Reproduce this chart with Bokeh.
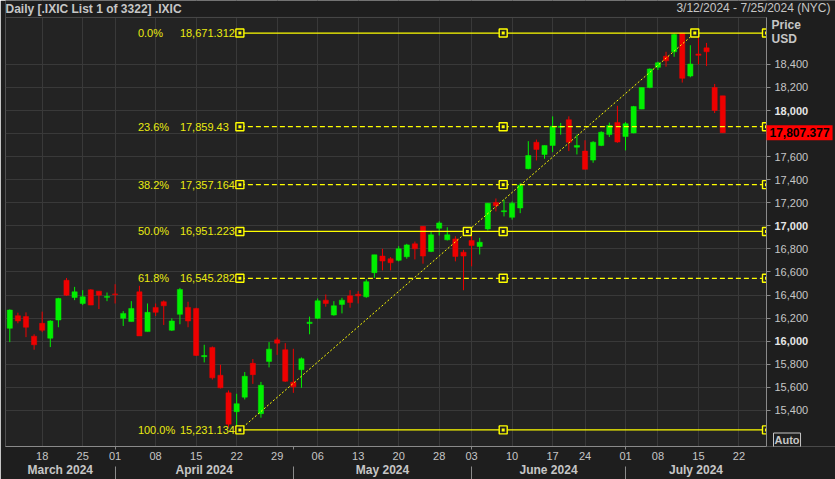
from bokeh.plotting import figure
from bokeh.models import (Range1d, LinearAxis, FixedTicker, Grid, Label,
                          ColumnDataSource, NumeralTickFormatter)
from bokeh.core.properties import value
from bokeh.embed import file_html
from bokeh.resources import INLINE

# ---------------- data ----------------
dates = ["03-12", "03-13", "03-14", "03-15", "03-18", "03-19", "03-20", "03-21", "03-22",
         "03-25", "03-26", "03-27", "03-28",
         "04-01", "04-02", "04-03", "04-04", "04-05", "04-08", "04-09", "04-10", "04-11", "04-12",
         "04-15", "04-16", "04-17", "04-18", "04-19", "04-22", "04-23", "04-24", "04-25", "04-26",
         "04-29", "04-30",
         "05-01", "05-02", "05-03", "05-06", "05-07", "05-08", "05-09", "05-10", "05-13", "05-14",
         "05-15", "05-16", "05-17", "05-20", "05-21", "05-22", "05-23", "05-24", "05-28", "05-29",
         "05-30", "05-31",
         "06-03", "06-04", "06-05", "06-06", "06-07", "06-10", "06-11", "06-12", "06-13", "06-14",
         "06-17", "06-18", "06-20", "06-21", "06-24", "06-25", "06-26", "06-27", "06-28",
         "07-01", "07-02", "07-03", "07-05", "07-08", "07-09", "07-10", "07-11", "07-12",
         "07-15", "07-16", "07-17", "07-18"]

opens = [16112, 16221, 16213, 16043, 16155, 16026, 16184, 16528, 16379,
         16327, 16445, 16434, 16380,
         16410, 16198, 16170, 16428, 16083, 16293, 16342, 16095, 16233, 16293,
         16284, 15866, 15946, 15705, 15552, 15389, 15515, 15808, 15372, 15825,
         16012, 15926,
         15644, 15753, 16153, 16198, 16356, 16227, 16319, 16393, 16407, 16385,
         16594, 16738, 16715, 16701, 16732, 16844, 16996, 16778, 16979, 16879,
         16887, 16772,
         16873, 16821, 16973, 17203, 17123, 17074, 17155, 17496, 17725, 17619,
         17697, 17854, 17920, 17682, 17648, 17570, 17697, 17791, 17897,
         17774, 17806, 18012, 18199, 18374, 18471, 18509, 18671.312, 18299,
         18490, 18543, 18199, 18127]
highs = [16276, 16247, 16250, 16060, 16256, 16181, 16376, 16548, 16471,
         16442, 16451, 16434, 16422,
         16494, 16261, 16347, 16480, 16327, 16327, 16353, 16198, 16462, 16342,
         16290, 15969, 15954, 15796, 15573, 15544, 15733, 15845, 15647, 15992,
         16032, 15983,
         15934, 15859, 16213, 16370, 16405, 16347, 16376, 16442, 16434, 16537,
         16749, 16801, 16729, 16824, 16844, 16864, 16996, 16950, 17039, 16988,
         16910, 16792,
         16912, 16896, 17197, 17237, 17226, 17211, 17370, 17734, 17748, 17697,
         17949, 17892, 17949, 17791, 17742, 17734, 17820, 17895, 18041,
         17900, 18040, 18199, 18365, 18423, 18509, 18667, 18671.312, 18566,
         18667, 18586, 18230, 18127]
lows = [15992, 16155, 16035, 15926, 16078, 15949, 16121, 16393, 16356,
        16313, 16313, 16279, 16347,
        16327, 16132, 16170, 16046, 16083, 16218, 16141, 16089, 16147, 16121,
        15872, 15816, 15667, 15590, 15257, 15231.134, 15495, 15630, 15337, 15773,
        15882, 15647,
        15552, 15596, 16060, 16192, 16299, 16221, 16241, 16290, 16327, 16376,
        16548, 16614, 16614, 16692, 16715, 16709, 16672, 16772, 16916, 16873,
        16692, 16442,
        16649, 16752, 16959, 17125, 17082, 17054, 17110, 17490, 17567, 17582,
        17639, 17791, 17648, 17619, 17490, 17547, 17691, 17770, 17720,
        17654, 17802, 18012, 18193, 18351, 18380, 18466, 18242, 18288,
        18400, 18385, 17978, 17806]
closes = [16270, 16175, 16121, 15969, 16095, 16175, 16370, 16399, 16428,
          16385, 16313, 16399, 16388,
          16404, 16241, 16284, 16046, 16250, 16250, 16307, 16175, 16448, 16175,
          15877, 15876, 15682, 15596, 15280, 15458, 15696, 15710, 15618, 15931,
          15983, 15653,
          15604, 15848, 16165, 16350, 16327, 16307, 16356, 16336, 16393, 16516,
          16749, 16695, 16680, 16801, 16835, 16801, 16738, 16922, 17025, 16922,
          16735, 16738,
          16830, 16858, 17197, 17174, 17131, 17197, 17352, 17610, 17662, 17697,
          17863, 17863, 17725, 17697, 17490, 17725, 17811, 17869, 17727,
          17886, 18035, 18199, 18360, 18414, 18431, 18658, 18279, 18403,
          18478, 18509, 18001, 17807.377]

last_price = 17807.377
last_price_label = "17,807.377"

# x axis: trading-day index of weekly labels (Jul 22 lies after the data)
week_idx = [4, 9, 13, 18, 23, 28, 33, 38, 43, 48, 53, 57, 62, 67, 71, 76, 80, 85, 90]
week_labels = ["18", "25", "01", "08", "15", "22", "29", "06", "13", "20", "28",
               "03", "10", "17", "24", "01", "08", "15", "22"]
month_start_idx = [13, 35, 57, 76]
month_names = ["March 2024", "April 2024", "May 2024", "June 2024", "July 2024"]

# y axis
price_ticks = [15400, 15600, 15800, 16000, 16200, 16400, 16600, 16800, 17000,
               17200, 17400, 17600, 17800, 18000, 18200, 18400]
bold_ticks = [16000, 17000, 18000]
bold_tick_labels = ["16,000", "17,000", "18,000"]

# Fibonacci retracement (Apr 22 low -> Jul 11 high)
fib_start_idx = 28.4
fib_end_idx = 84.55
fib_low = 15231.134
fib_high = 18671.312
fib_pct = ["0.0%", "23.6%", "38.2%", "50.0%", "61.8%", "100.0%"]
fib_val = [18671.312, 17859.43, 17357.164, 16951.223, 16545.282, 15231.134]
fib_txt = ["18,671.312", "17,859.43", "17,357.164", "16,951.223", "16,545.282", "15,231.134"]
fib_solid = [True, False, False, True, False, True]

title_text = "Daily [.IXIC List 1 of 3322] .IXIC"
range_text = "3/12/2024 - 7/25/2024 (NYC)"

# ---------------- styling / geometry ----------------
BG = "#232323"
BORDER = "#1e1e1e"
GRID = "#393939"
AXIS = "#8a8a8a"
TXT = "#c6c6c6"
YEL = "#ffff00"
FIBTXT = "#eaea10"
GREEN = "#00f000"
RED = "#ee0000"
FONT = "Liberation Sans"

FW, FH = 835, 479
LEFT = 5             # thin border left of the plot
BOTTOM = 31          # axis rows below the plot
TOP_STRIP = 17       # title row (inside the frame)
RIGHT_STRIP = 69     # price-axis column (inside the frame)

x_plot0, x_plot1 = -0.53, 93.4
y_plot0, y_plot1 = 15087, 18807
plot_w = FW - LEFT - RIGHT_STRIP
plot_h = FH - BOTTOM - TOP_STRIP
x_end = x_plot1 + RIGHT_STRIP * (x_plot1 - x_plot0) / plot_w
y_end = y_plot1 + TOP_STRIP * (y_plot1 - y_plot0) / plot_h

p = figure(width=FW, height=FH, output_backend="svg", toolbar_location=None,
           x_range=Range1d(x_plot0, x_end), y_range=Range1d(y_plot0, y_end),
           x_axis_type=None, y_axis_type=None,
           min_border_left=LEFT, min_border_right=0, min_border_top=0,
           min_border_bottom=BOTTOM,
           background_fill_color=BG, border_fill_color=BORDER,
           outline_line_color=None)

# ---- axes ----
yt = FixedTicker(ticks=price_ticks)
overrides = {t: "" for t in bold_ticks}
overrides[17800] = ""
yax = LinearAxis(ticker=yt, formatter=NumeralTickFormatter(format="0,0"),
                 fixed_location=x_plot1, bounds=(y_plot0, y_plot1),
                 major_label_overrides=overrides,
                 axis_line_color=AXIS, major_tick_line_color=AXIS,
                 major_tick_out=4, major_tick_in=0, minor_tick_line_color=None,
                 major_label_standoff=4, major_label_text_color=TXT,
                 major_label_text_font=FONT, major_label_text_font_size="11px")
p.add_layout(yax, "right")

xt = FixedTicker(ticks=week_idx, minor_ticks=month_start_idx)
xax = LinearAxis(ticker=xt, bounds=(x_plot0, x_plot1),
                 major_label_overrides={i: s for i, s in zip(week_idx, week_labels)},
                 axis_line_color=AXIS, major_tick_line_color=None, major_tick_out=0,
                 major_tick_in=0, minor_tick_line_color=AXIS, minor_tick_out=3,
                 minor_tick_in=0, major_label_standoff=2, major_label_text_color=TXT,
                 major_label_text_font=FONT, major_label_text_font_size="11px")
p.add_layout(xax, "below")

bounds = [x_plot0] + month_start_idx + [x_plot1]
month_centers = [(a + b) / 2 for a, b in zip(bounds[:-1], bounds[1:])]
mt = FixedTicker(ticks=month_centers, minor_ticks=[])
max_ = LinearAxis(ticker=mt, bounds=(x_plot0, x_plot1),
                  major_label_overrides={c: n for c, n in zip(month_centers, month_names)},
                  axis_line_color=None, major_tick_line_color=None, major_tick_out=0,
                  major_tick_in=0, minor_tick_line_color=None, minor_tick_out=0,
                  minor_tick_in=0, major_label_standoff=0, major_label_text_color=TXT,
                  major_label_text_font=FONT, major_label_text_font_size="12px",
                  major_label_text_font_style="bold")
p.add_layout(max_, "below")

# month separators in the month row
st = FixedTicker(ticks=[], minor_ticks=month_start_idx)
sep = LinearAxis(ticker=st, bounds=(x_plot0, x_plot1), axis_line_color=None,
                 major_tick_line_color=None, major_tick_out=0, major_tick_in=0,
                 minor_tick_line_color=AXIS, minor_tick_out=0, minor_tick_in=13,
                 major_label_standoff=0, major_label_text_font_size="1px")
p.add_layout(sep, "below")

p.add_layout(Grid(dimension=0, ticker=xt, grid_line_color=GRID))
p.add_layout(Grid(dimension=1, ticker=yt, grid_line_color=GRID))

# ---- candles ----
idx = list(range(len(dates)))
colors = [GREEN if c >= o else RED for o, c in zip(opens, closes)]
src = ColumnDataSource(dict(x=idx, o=opens, h=highs, l=lows, c=closes,
                            top=[max(o, c) for o, c in zip(opens, closes)],
                            bottom=[min(o, c) for o, c in zip(opens, closes)],
                            color=colors))
p.segment(x0="x", y0="l", x1="x", y1="h", line_color="color", line_width=1, source=src)
p.vbar(x="x", width=0.64, top="top", bottom="bottom", fill_color="color",
       line_color="color", line_width=0.5, source=src)

# ---- fibonacci retracement ----
solid_y = [v for v, s in zip(fib_val, fib_solid) if s]
dash_y = [v for v, s in zip(fib_val, fib_solid) if not s]
p.segment(x0=[fib_start_idx] * len(solid_y), y0=solid_y, x1=[x_plot1] * len(solid_y),
          y1=solid_y, line_color=YEL, line_width=1.2)
p.segment(x0=[fib_start_idx] * len(dash_y), y0=dash_y, x1=[x_plot1] * len(dash_y),
          y1=dash_y, line_color=YEL, line_width=1.2, line_dash="5 3")
p.line(x=[fib_start_idx, fib_end_idx], y=[fib_low, fib_high], line_color=YEL,
       line_width=1, line_dash="2 2")

mid_x = (fib_start_idx + x_plot1) / 2
mx, my = [], []
for v in fib_val:
    mx += [fib_start_idx, mid_x, x_plot1]
    my += [v, v, v]
mx += [(fib_start_idx + fib_end_idx) / 2, fib_end_idx]
my += [(fib_low + fib_high) / 2, fib_high]
p.scatter(x=mx, y=my, marker="square", size=8, fill_color=BG, line_color=YEL, line_width=1.4)
p.scatter(x=mx, y=my, marker="square", size=3, fill_color=YEL, line_color=None)

p.text(x=[fib_start_idx] * 6, y=fib_val, text=fib_pct, x_offset=-102,
       text_align="left", text_baseline="middle", text_color=FIBTXT,
       text_font=value(FONT), text_font_size="11px")
p.text(x=[fib_start_idx] * 6, y=fib_val, text=fib_txt, x_offset=-60,
       text_align="left", text_baseline="middle", text_color=FIBTXT,
       text_font=value(FONT), text_font_size="11px")

# ---- title row and price column backgrounds (inside the frame) ----
p.quad(left=[x_plot0, x_plot1], right=[x_end, x_end], bottom=[y_plot1, y_plot0],
       top=[y_end, y_end], fill_color=BORDER, line_color=None)
p.quad(left=[x_plot0], right=[x_plot1], bottom=[y_plot0], top=[y_plot1],
       fill_color=None, line_color="#4a4a4a", line_width=1)

# ---- texts in the title row and price column ----
for v, s in zip(bold_ticks, bold_tick_labels):
    p.add_layout(Label(x=x_plot1, y=v, x_offset=8, text=s, text_align="left",
                       text_baseline="middle", text_color="#e6e6e6", text_font=FONT,
                       text_font_size="11px", text_font_style="bold"))
p.add_layout(Label(x=x_plot1, y=last_price, x_offset=0, text=last_price_label,
                   text_align="left", text_baseline="middle", text_color="#000000",
                   text_font=FONT, text_font_size="12px", text_font_style="bold",
                   background_fill_color="#ff0000", padding=3))
p.add_layout(Label(x=x_plot1, y=y_plot1, x_offset=5, y_offset=-7.5, text="Price",
                   text_align="left", text_baseline="middle", text_color=TXT,
                   text_font=FONT, text_font_size="12px", text_font_style="bold"))
p.add_layout(Label(x=x_plot1, y=y_plot1, x_offset=5, y_offset=-22, text="USD",
                   text_align="left", text_baseline="middle", text_color=TXT,
                   text_font=FONT, text_font_size="12px", text_font_style="bold"))
p.add_layout(Label(x=x_plot1, y=y_plot0, x_offset=7, y_offset=6.5, text="Auto",
                   text_align="left", text_baseline="middle", text_color=TXT,
                   text_font=FONT, text_font_size="11px", text_font_style="bold",
                   border_line_color=TXT, padding=1))
p.add_layout(Label(x=x_plot0, y=y_plot1, x_offset=0, y_offset=8, text=title_text,
                   text_align="left", text_baseline="middle", text_color=TXT,
                   text_font=FONT, text_font_size="12px", text_font_style="bold"))
p.add_layout(Label(x=x_end, y=y_plot1, x_offset=-5, y_offset=9, text=range_text,
                   text_align="right", text_baseline="middle", text_color=TXT,
                   text_font=FONT, text_font_size="12px"))

open("out.html", "w").write(file_html(p, INLINE))
